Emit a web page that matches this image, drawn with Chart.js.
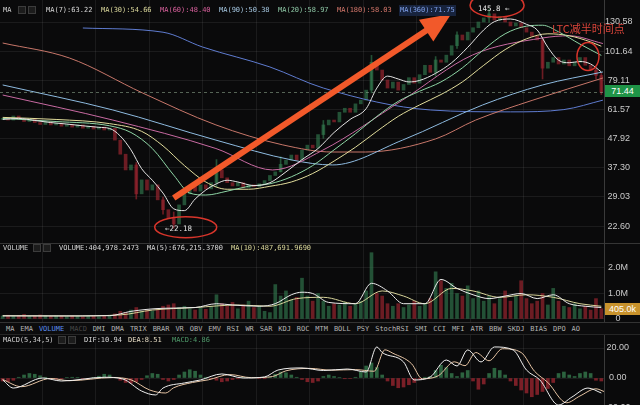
<!DOCTYPE html>
<html>
<head>
<meta charset="utf-8">
<script src="https://cdn.jsdelivr.net/npm/chart.js@4.4.1/dist/chart.umd.min.js"></script>
<style>
  html, body { margin:0; padding:0; background:#0a0a0b; }
  #wrap { position:relative; width:640px; height:405px; overflow:hidden; background:#0a0a0b;
          font-family:"DejaVu Sans Mono", monospace; font-size:7px; }
  canvas { position:absolute; left:0; }
  .t { position:absolute; white-space:nowrap; line-height:1; }
  .ic { position:absolute; width:6px; height:6px; border:1px solid #3c3c3c; background:#1c1c1c; }
  .hl { position:absolute; left:0; width:640px; height:1px; background:#353535; }
  #tabs { position:absolute; left:0; top:322px; width:640px; height:13px; background:#0c0c0d;
          border-top:1px solid #333; border-bottom:1px solid #262626; box-sizing:border-box;
          display:flex; gap:5.9px; padding-left:6px; align-items:center; color:#b4b4b4; }
  .box { position:absolute; left:605px; width:35px; height:12px; line-height:12px; text-align:center;
         color:#fff; font-family:"Liberation Sans", sans-serif; font-size:9px; }
</style>
</head>
<body>
<div id="wrap">
  <canvas id="main" width="640" height="243" style="top:0"></canvas>
  <canvas id="vol" width="640" height="90" style="top:243px"></canvas>
  <canvas id="macd" width="640" height="70" style="top:335px"></canvas>

  <div class="hl" style="top:243px"></div>
  <div style="position:absolute;left:604px;top:0;width:1px;height:405px;background:#3a3a3a"></div>

  <!-- main header -->
  <div class="t" style="left:3px;top:7px;color:#d0d0d0">MA</div>
  <span class="ic" style="left:18px;top:6px"></span><span class="ic" style="left:28px;top:6px"></span>
  <div class="t" style="left:46px;top:7px;color:#d8d8d8">MA(7):63.22</div>
  <div class="t" style="left:101px;top:7px;color:#d9d69a">MA(30):54.66</div>
  <div class="t" style="left:160px;top:7px;color:#d8609c">MA(60):48.40</div>
  <div class="t" style="left:219px;top:7px;color:#a6c8e2">MA(90):50.38</div>
  <div class="t" style="left:278px;top:7px;color:#8ec8a6">MA(20):58.97</div>
  <div class="t" style="left:337px;top:7px;color:#d6786c">MA(180):58.03</div>
  <div class="t" style="left:399px;top:5px;padding:2px 1px;background:#17233d;color:#7fa0ea">MA(360):71.75</div>

  <!-- annotations -->
  <div class="t" style="left:478px;top:5px;color:#e8e8e8;font-size:7.5px">145.8 &larr;</div>
  <div class="t" style="left:165px;top:225px;color:#e0e0e0;font-size:7.5px">&larr;22.18</div>
  <div class="t" style="left:552px;top:23px;color:#d8443a;font-family:'Noto Sans CJK SC',sans-serif;font-size:11px">LTC减半时间点</div>
  <div class="box" style="top:85px;background:#1f9447">71.44</div>

  <!-- volume header -->
  <div class="t" style="left:3px;top:245px;color:#d0d0d0">VOLUME</div>
  <span class="ic" style="left:33px;top:244px"></span><span class="ic" style="left:43px;top:244px"></span>
  <div class="t" style="left:59px;top:245px;color:#d8d8d8">VOLUME:404,978.2473</div>
  <div class="t" style="left:147px;top:245px;color:#d8d8d8">MA(5):676,215.3700</div>
  <div class="t" style="left:231px;top:245px;color:#d9d69a">MA(10):487,691.9690</div>
  <div class="box" style="top:303px;background:#c8922c">405.0k</div>

  <div id="tabs">
    <span>MA</span><span>EMA</span><span style="color:#5b8ef0">VOLUME</span><span style="color:#474747">MACD</span>
    <span>DMI</span><span>DMA</span><span>TRIX</span><span>BRAR</span><span>VR</span><span>OBV</span><span>EMV</span>
    <span>RSI</span><span>WR</span><span>SAR</span><span>KDJ</span><span>ROC</span><span>MTM</span><span>BOLL</span>
    <span>PSY</span><span>StochRSI</span><span>SMI</span><span>CCI</span><span>MFI</span><span>ATR</span><span>BBW</span>
    <span>SKDJ</span><span>BIAS</span><span>DPO</span><span>AO</span>
  </div>

  <!-- macd header -->
  <div class="t" style="left:3px;top:337px;color:#d0d0d0">MACD(5,34,5)</div>
  <span class="ic" style="left:58px;top:336px"></span><span class="ic" style="left:68px;top:336px"></span>
  <div class="t" style="left:84px;top:337px;color:#d8d8d8">DIF:10.94</div>
  <div class="t" style="left:128px;top:337px;color:#e6dcc4">DEA:8.51</div>
  <div class="t" style="left:172px;top:337px;color:#4f9a6a">MACD:4.86</div>
</div>

<script>
// ---- data ----
var closes = [
  57.0, 56.2, 58.2, 56.7, 55.5, 57.0, 55.0, 54.1, 55.5, 53.9,
  54.7, 53.3, 54.1, 52.9, 53.9, 52.4, 53.3, 52.0, 52.9, 51.6,
  52.4, 47.3, 41.9, 36.6, 38.2, 29.8, 33.6, 30.8, 32.2, 28.3,
  26.0, 24.2, 23.0, 27.1, 29.8, 31.7, 30.5, 32.2, 31.1, 32.8,
  36.6, 34.2, 32.8, 31.9, 32.8, 31.4, 32.2, 31.7, 32.5, 33.4,
  34.9, 36.0, 38.4, 39.8, 41.6, 39.8, 43.4, 45.3, 44.2, 49.6,
  53.9, 56.2, 55.3, 60.1, 62.2, 60.1, 64.6, 66.7, 72.7, 92.4,
  86.4, 79.3, 74.0, 77.9, 72.7, 76.3, 80.9, 77.2, 83.0, 90.0,
  84.7, 94.2, 92.4, 98.2, 106.5, 116.8, 111.9, 119.7, 124.3, 130.6,
  135.3, 140.1, 132.8, 136.4, 130.6, 126.2, 129.5, 124.3, 119.7, 115.5,
  111.9, 87.8, 92.4, 96.2, 91.0, 94.2, 89.6, 92.4, 96.2, 90.0,
  86.4, 82.5, 71.44
];
var opens = [
  56.5, 57.0, 56.2, 58.2, 56.7, 55.5, 57.0, 55.0, 54.1, 55.5,
  53.9, 54.7, 53.3, 54.1, 52.9, 53.9, 52.4, 53.3, 52.0, 52.9,
  51.6, 52.4, 47.3, 41.9, 36.6, 38.2, 29.8, 33.6, 30.8, 32.2,
  28.3, 26.0, 24.2, 23.0, 27.1, 29.8, 31.7, 30.5, 32.2, 31.1,
  32.8, 36.6, 34.2, 32.8, 31.9, 32.8, 31.4, 32.2, 31.7, 32.5,
  33.4, 34.9, 36.0, 38.4, 39.8, 41.6, 39.8, 43.4, 45.3, 44.2,
  49.6, 53.9, 56.2, 55.3, 60.1, 62.2, 60.1, 64.6, 66.7, 72.7,
  92.4, 86.4, 79.3, 74.0, 77.9, 72.7, 76.3, 80.9, 77.2, 83.0,
  90.0, 84.7, 94.2, 92.4, 98.2, 106.5, 116.8, 111.9, 119.7, 124.3,
  130.6, 135.3, 140.1, 132.8, 136.4, 130.6, 126.2, 129.5, 124.3, 119.7,
  115.5, 111.9, 87.8, 92.4, 96.2, 91.0, 94.2, 89.6, 92.4, 96.2,
  90.0, 86.4, 82.5
];
// [candle, low, high]
var wicks = [
  [25, 28.5, 39], [30, 25, 29], [32, 22.18, 25.5], [40, 31.5, 40], [52, 36, 41],
  [60, 48, 56], [69, 71, 98], [81, 82, 97], [85, 104, 120], [91, 130, 145.8],
  [101, 80, 113], [111, 80, 88], [112, 70, 84]
];
var low_mark = 22.18;
var high_mark = 145.8;

// moving averages, [candle, value]
var ma7 = [[0,56.5],[3,57],[6,56],[9,55],[12,54.3],[15,53.5],[18,52.8],[20,52.3],[22,49],[24,43.5],[26,37],[28,33.5],
  [30,30],[32,26.2],[34,25.8],[36,28.5],[38,30.8],[40,32.5],[42,33.5],[44,33],[47,32],[50,32.8],[53,36],[56,40],[59,44],
  [62,50.5],[65,56.5],[68,62],[70,74],[72,82],[74,80],[76,78],[78,79],[81,84],[84,92],[87,105],[90,122],[92,131],[95,134],
  [98,128],[100,122],[102,105],[104,94],[106,92],[108,93],[110,91],[112,85]];
var ma20 = [[0,57],[10,55.5],[20,53.5],[24,50.5],[28,44],[32,35],[35,30],[38,29.5],[42,30.5],[46,31.8],[50,32.5],[54,34.5],
  [58,38],[62,43.5],[66,50],[70,58],[74,66],[78,72],[82,78],[86,88],[90,103],[94,118],[98,126],[101,127],[104,120],[108,108],[112,98]];
var ma30 = [[0,57.5],[10,56.5],[20,54.5],[26,51],[30,45],[34,38],[38,33],[42,31],[46,31],[50,31.8],[54,33],[58,35.5],
  [62,39.5],[66,44.5],[70,51],[74,58],[78,64],[82,70],[86,78],[90,90],[94,103],[98,113],[102,118],[106,116],[110,110],[112,106]];
var ma60 = [[0,69.7],[20.6,56.2],[39.9,44],[50.5,36.6],[59.9,43.4],[74.8,66.7],[87.9,98.3],[101,113.8],[106,116],[112.3,108.5]];
var ma90 = [[0,76],[20.6,61.3],[39.9,47.3],[54.3,39.8],[61.7,38.2],[74.8,47.3],[89.8,64],[101,76],[112.3,85]];
var ma180 = [[0,109],[12.5,95.8],[26.2,70.9],[39.9,53.9],[52.4,45.4],[61.7,42.7],[67.9,42.7],[81,47.8],[88.5,56.2],[99.2,66.7],[112.3,80.7]];
var ma360 = [[15,124],[30,119.6],[37.4,105.3],[50,88.7],[60,74],[80,61.3],[95,60.3],[105,61.5],[112.3,66.7]];

// volume in millions
var volumes = [
  0.12,0.15,0.10,0.14,0.18,0.10,0.12,0.16,0.13,0.10,
  0.12,0.11,0.09,0.12,0.10,0.08,0.10,0.12,0.09,0.11,
  0.14,0.20,0.30,0.25,0.35,0.45,0.30,0.35,0.30,0.40,
  0.50,0.55,0.60,0.45,0.50,0.40,0.35,0.45,0.38,0.50,
  0.95,0.60,0.50,0.65,0.40,0.55,0.70,0.45,0.50,0.30,
  0.25,1.35,0.90,1.10,0.75,0.85,1.60,0.90,0.70,1.00,
  0.70,0.50,0.60,0.55,0.65,0.50,0.60,0.70,1.10,2.60,
  1.00,0.90,0.60,0.50,0.60,0.45,0.55,0.70,0.50,0.60,
  0.80,1.85,1.50,1.20,1.40,1.00,0.90,1.30,0.80,1.10,
  0.70,0.90,0.60,0.80,1.10,0.70,0.90,1.50,0.80,0.60,
  0.70,1.00,0.55,1.20,0.70,0.50,0.45,0.60,0.40,0.50,
  0.35,0.80,0.405
];
var vol_ma5 = [[0,0.12],[10,0.12],[20,0.13],[24,0.3],[30,0.42],[36,0.45],[40,0.6],[43,0.55],[48,0.5],[51,0.6],[54,0.95],
  [56,1.05],[58,1.0],[61,0.65],[66,0.6],[69,1.4],[72,1.1],[75,0.6],[79,0.6],[82,1.55],[85,1.2],[88,0.95],[91,0.8],
  [94,0.9],[97,1.0],[100,0.8],[103,0.95],[106,0.6],[109,0.5],[112,0.45]];
var vol_ma10 = [[0,0.13],[12,0.12],[22,0.16],[28,0.35],[36,0.45],[44,0.55],[50,0.5],[55,0.8],[60,0.85],[66,0.6],[71,1.1],
  [75,0.9],[79,0.6],[84,1.2],[88,1.1],[93,0.85],[98,0.95],[103,0.85],[108,0.6],[112,0.5]];

var macd_hist = [
  -2,-2.5,-1.5,0.5,2,3,2.5,1.5,0.5,-0.5,
  -0.8,-0.5,0.3,0.5,0.3,-0.3,-0.5,0.2,1.2,2.5,
  2,0.5,-1.5,-3,-3.5,-2.5,-1,1.5,3,2.5,
  -1,-2,-1,2,4,5.5,4.5,2,0.5,-0.5,
  -1.5,-2.5,-2,-1,-0.5,0.3,0.5,0.3,-0.3,-0.5,
  0.5,2.5,4,3.5,2,0.5,-1,-2.5,-3,-2,
  1,2,1,0.3,-0.5,-0.3,0.5,4,8,10,
  7,2,-2,-5,-6.5,-6,-4.5,-3,-1,0.5,
  1,5,8.5,7,3,1,3.5,5,-2,-7.5,
  -4,3,6.5,5,2,-2,-5,-8,-10,-12.5,
  -11,-9,-7,-3,3,4,2,1,3,4,
  3,-1.5,-2
];
var dif = [[0,-1.3],[2,-6.7],[7.5,0],[11,-2],[19,0.5],[22.5,-0.7],[26,-8.7],[28.6,-11.3],[30,-6.7],[34,-3.3],[37,-1.3],
  [41,2.7],[45,0],[49,0.7],[51.5,5.3],[56,6.7],[60,5],[64.5,6],[68,4],[70,20.7],[71,17],[75,10.7],[77,-1.3],[80,0.7],
  [83,12],[85,8],[87,18.7],[89.5,10.7],[92,20.7],[95.5,18.7],[98,5.3],[100.5,-1.3],[104,-18],[106.5,-12.7],[109.5,-6.7],[112,-10]];
var dea = [[0,-1],[3.5,-5.8],[9,-0.3],[12.5,-1.8],[20.5,0.3],[24,-1.2],[27.5,-8],[30.5,-10],[32,-6.5],[35.5,-3],[38.5,-1.2],
  [42.5,2.3],[46.5,0.2],[50.5,1],[53,4.8],[57.5,6.4],[61.5,5.2],[66,5.6],[69.5,4.5],[71.5,18.8],[73,16.5],[76.5,9.5],
  [78.5,-0.5],[81.5,1.5],[84.5,10.8],[86.5,8.2],[88.5,17],[91,11.5],[93.5,19.5],[97,17],[99.5,4.5],[102,-3],[105.5,-16.5],
  [108,-12],[111,-7.2],[112.5,-9]];

var price_ticks = [22.60, 29.03, 37.30, 47.92, 61.57, 79.11, 101.64, 130.58];
var vol_ticks = [0, 1, 2];
var macd_ticks = [-20, 0, 20];

// ---- drawing ----
var UP = 'rgba(52,126,80,0.62)';
var DOWN = 'rgba(150,36,46,0.7)';
var GRID = 'rgba(255,255,255,0.07)';
var N = closes.length;

function pts(list) {
  return list.map(function (p) { return { x: p[0] + 0.5, y: p[1] }; });
} // pts

function candle_color(i) {
  return closes[i] >= opens[i] ? UP : DOWN;
} // candle color

function line_ds(list, color, width) {
  return { type: 'line', data: pts(list), borderColor: color, borderWidth: width || 1,
           pointRadius: 0, cubicInterpolationMode: 'monotone', order: 1 };
} // line ds

function x_axis() {
  return {
    type: 'linear', min: 0, max: N, offset: false,
    ticks: { display: false },
    grid: { color: GRID, drawTicks: false, offset: false },
    border: { display: false },
    afterBuildTicks: function (s) {
      var t = [];
      for (var k = 0; k < 10; k++) t.push({ value: 7.86 + 10.01 * k });
      s.ticks = t;
    },
    afterFit: function (s) { s.height = 0; s.paddingLeft = 0; s.paddingRight = 0; }
  };
} // x axis

function y_axis(extra, tickList, fmt, pad) {
  var ax = {
    position: 'right',
    afterBuildTicks: function (s) { s.ticks = tickList.map(function (v) { return { value: v }; }); },
    afterFit: function (s) { s.width = 36; s.paddingTop = 0; s.paddingBottom = 0; },
    ticks: { callback: fmt, color: '#cacaca', font: { family: 'Liberation Sans', size: 9 },
             padding: pad, crossAlign: 'center', autoSkip: false },
    grid: { color: GRID, drawTicks: false },
    border: { display: false }
  };
  return Object.assign(ax, extra);
} // y axis

var base_options = {
  responsive: false, animation: false, events: [],
  layout: { padding: 0 },
  plugins: { legend: { display: false }, tooltip: { enabled: false } }
};

var annotate = {
  id: 'annotate',
  afterDatasetsDraw: function (chart) {
    var ctx = chart.ctx, x = chart.scales.x, y = chart.scales.y, area = chart.chartArea;
    ctx.save();

    // last price line
    var py = Math.round(y.getPixelForValue(closes[N - 1])) + 0.5;
    ctx.setLineDash([3, 3]);
    ctx.strokeStyle = 'rgba(150,175,150,0.55)';
    ctx.lineWidth = 1;
    ctx.beginPath(); ctx.moveTo(area.left, py); ctx.lineTo(area.right, py); ctx.stroke();
    ctx.setLineDash([]);

    // big arrow
    var x0 = x.getPixelForValue(32.5), y0 = y.getPixelForValue(28.75);
    var x1 = x.getPixelForValue(84.4), y1 = y.getPixelForValue(139.9);
    var a = Math.atan2(y1 - y0, x1 - x0), L = 30, W = 13;
    var bx = x1 - L * Math.cos(a), by = y1 - L * Math.sin(a);
    ctx.strokeStyle = '#f2592a'; ctx.fillStyle = '#f2592a';
    ctx.lineWidth = 6;
    ctx.beginPath(); ctx.moveTo(x0, y0); ctx.lineTo(bx + 2 * Math.cos(a), by + 2 * Math.sin(a)); ctx.stroke();
    ctx.beginPath();
    ctx.moveTo(x1, y1);
    ctx.lineTo(bx + W * Math.sin(a), by - W * Math.cos(a));
    ctx.lineTo(bx - W * Math.sin(a), by + W * Math.cos(a));
    ctx.closePath(); ctx.fill();

    // red rings
    ctx.strokeStyle = '#d8352b';
    ctx.lineWidth = 1.5;
    ctx.beginPath();
    ctx.ellipse(x.getPixelForValue(32.5) + 12, y.getPixelForValue(low_mark) - 1, 31, 10.5, 0, 0, Math.PI * 2);
    ctx.stroke();
    ctx.beginPath();
    ctx.ellipse(x.getPixelForValue(91.5) + 8, y.getPixelForValue(high_mark) - 4, 27, 12, 0, 0, Math.PI * 2);
    ctx.stroke();
    ctx.beginPath();
    ctx.ellipse(x.getPixelForValue(110), y.getPixelForValue(97), 11, 14, 0, 0, Math.PI * 2);
    ctx.stroke();

    ctx.restore();
  }
};

// main price panel
new Chart(document.getElementById('main'), {
  type: 'bar',
  data: {
    datasets: [
      line_ds(ma7, '#e4e4e4'),
      line_ds(ma20, '#8fd6a6'),
      line_ds(ma30, '#e2dd9c'),
      line_ds(ma60, '#c86aa2'),
      line_ds(ma90, '#8ebbe0'),
      line_ds(ma180, '#c8776a'),
      line_ds(ma360, '#5f7cd0'),
      {
        data: closes.map(function (c, i) { return { x: i + 0.5, y: [opens[i], c] }; }),
        backgroundColor: closes.map(function (c, i) { return candle_color(i); }),
        barThickness: 3, grouped: false, order: 2
      },
      {
        data: wicks.map(function (w) { return { x: w[0] + 0.5, y: [w[1], w[2]] }; }),
        backgroundColor: wicks.map(function (w) { return candle_color(w[0]); }),
        barThickness: 1, grouped: false, order: 3
      }
    ]
  },
  options: Object.assign({}, base_options, {
    scales: {
      x: x_axis(),
      y: y_axis({ type: 'logarithmic', min: 19.53, max: 157.77 }, price_ticks,
                function (v) { return Number(v).toFixed(2); }, 1)
    }
  }),
  plugins: [annotate]
});

// volume panel
new Chart(document.getElementById('vol'), {
  type: 'bar',
  data: {
    datasets: [
      line_ds(vol_ma5, '#ececec'),
      line_ds(vol_ma10, '#d8d49a'),
      {
        data: volumes.map(function (v, i) { return { x: i + 0.5, y: v }; }),
        backgroundColor: volumes.map(function (v, i) { return candle_color(i); }),
        barThickness: 3, grouped: false, order: 2
      }
    ]
  },
  options: Object.assign({}, base_options, {
    scales: {
      x: x_axis(),
      y: y_axis({ type: 'linear', min: -0.549, max: 2.98 }, vol_ticks,
                function (v) { return v === 0 ? '0' : Number(v).toFixed(1) + 'M'; }, 4)
    }
  })
});

// macd panel
new Chart(document.getElementById('macd'), {
  type: 'bar',
  data: {
    datasets: [
      line_ds(dif, '#f0f0f0'),
      line_ds(dea, '#e6c4a4'),
      {
        data: macd_hist.map(function (v, i) { return { x: i + 0.5, y: v }; }),
        backgroundColor: macd_hist.map(function (v) { return v >= 0 ? 'rgba(56,130,82,0.75)' : 'rgba(150,36,46,0.8)'; }),
        barThickness: 3, grouped: false, order: 2
      }
    ]
  },
  options: Object.assign({}, base_options, {
    scales: {
      x: x_axis(),
      y: y_axis({ type: 'linear', min: -18, max: 28.67 }, macd_ticks,
                function (v) { return Number(v).toFixed(2); }, 1)
    }
  })
});
</script>
</body>
</html>
